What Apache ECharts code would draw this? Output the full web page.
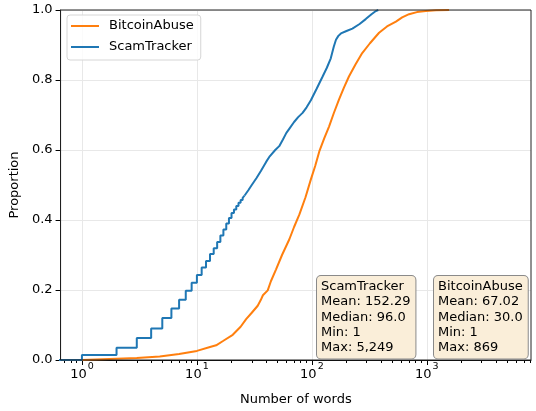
<!DOCTYPE html>
<html><head><meta charset="utf-8">
<script src="https://cdn.jsdelivr.net/npm/echarts@6/dist/echarts.min.js"></script>
<style>html,body{margin:0;padding:0;background:#fff}#c{width:536px;height:411px}</style>
</head><body><div id="c"></div>
<script>
// ScamTracker ECDF: integer step part
const scamStepX = [0.1,1,2,3,4,5,6,7,8,9,10,11,12,13,14,15,16,17,18,19,20,21,22,23,24,25,26];
const scamStepY = [0,0.014,0.035,0.063,0.090,0.120,0.147,0.172,0.198,0.221,0.243,0.264,0.283,0.303,0.319,0.337,0.356,0.373,0.390,0.406,0.420,0.430,0.440,0.449,0.457,0.463,0.470];
// ScamTracker ECDF: dense part (reaches 1.0 where it meets the top of the plot)
const scamCurveX = [26,28,30,33,36,40,43,48,52,56,60,64,70,76,83,90,98,110,124,135,146,155,162,170,179,200,225,260,294,330,360,378];
const scamCurveY = [0.470,0.485,0.500,0.520,0.540,0.566,0.582,0.600,0.611,0.630,0.649,0.662,0.680,0.694,0.706,0.722,0.742,0.775,0.810,0.835,0.862,0.895,0.915,0.926,0.933,0.940,0.947,0.960,0.974,0.988,0.997,1.0];
// BitcoinAbuse ECDF
const btcX = [0.1,1,1,3,4.75,7,10,13,14.7,17,20.5,24,26.8,30,33.8,36,37.5,41.3,44,48.8,55,63.7,70,77.9,88,98,107,116,128,141,155,172,190,210,240,274,320,384,450,538,610,700,820,980,1200,1560];
const btcY = [0,0,0.003,0.006,0.010,0.017,0.026,0.037,0.042,0.055,0.072,0.095,0.117,0.135,0.155,0.172,0.185,0.199,0.225,0.259,0.300,0.345,0.380,0.416,0.465,0.516,0.555,0.596,0.633,0.667,0.705,0.744,0.778,0.810,0.845,0.877,0.905,0.935,0.953,0.967,0.979,0.988,0.994,0.997,0.999,1.0];

const majorTicks = [1,10,100,1000];
const minorTicks = [0.7,0.8,0.9,2,3,4,5,6,7,8,9,20,30,40,50,60,70,80,90,200,300,400,500,600,700,800,900,2000,3000,4000,5000,6000,7000,8000];
const xMin = 0.652, xMax = 8050;

const statsScam = ['ScamTracker','Mean: 152.29','Median: 96.0','Min: 1','Max: 5,249'];
const statsBtc = ['BitcoinAbuse','Mean: 67.02','Median: 30.0','Min: 1','Max: 869'];

const FONT = 'DejaVu Sans';
const FS = 13;
const ORANGE = '#ff7f0e', BLUE = '#1f77b4';
const zip = (a,b)=>a.map((v,i)=>[v,b[i]]);

const chart = echarts.init(document.getElementById('c'), null, {renderer:'canvas'});
const boxStyle = (lines)=>({
  text: lines.join('\n'), font: FS+'px "'+FONT+'"', fill:'#000', lineHeight:15.3,
  backgroundColor:'#faeed9', borderColor:'#8a8a8a', borderWidth:1, borderRadius:4,
  padding:[3,5,3,4]
});
chart.setOption({
  animation:false,
  textStyle:{fontFamily:FONT},
  grid:{left:60,right:5,top:10,bottom:50,show:true,borderColor:'#222',borderWidth:1,backgroundColor:'transparent',z:5},
  legend:{
    orient:'vertical', left:67, top:15, data:['BitcoinAbuse','ScamTracker'],
    icon:'rect', itemWidth:28, itemHeight:2, itemGap:7,
    textStyle:{fontSize:FS, color:'#000', fontFamily:FONT, lineHeight:14, padding:[0,0,0,5]},
    backgroundColor:'rgba(255,255,255,0.8)', borderColor:'#d6d6d6', borderWidth:1, borderRadius:3,
    padding:[4,7,6,4]
  },
  xAxis:[{
    type:'log', logBase:10, min:xMin, max:xMax,
    name:'Number of words', nameLocation:'middle', nameGap:33,
    nameTextStyle:{fontSize:FS, color:'#000', fontFamily:FONT},
    axisLine:{show:true, onZero:false, lineStyle:{color:'#000', width:1}},
    axisTick:{show:true, length:5, customValues:majorTicks, lineStyle:{color:'#000'}},
    axisLabel:{customValues:majorTicks, margin:7, color:'#000',
      formatter:(v)=>{const k=Math.round(Math.log10(v)); return '{b|10}{s|'+k+'}';},
      rich:{b:{fontSize:FS, fontFamily:FONT, color:'#000', lineHeight:14, verticalAlign:'bottom'},
            s:{fontSize:9.5, fontFamily:FONT, color:'#000', lineHeight:10, padding:[0,0,9,1], verticalAlign:'bottom'}}},
    splitLine:{show:true, lineStyle:{color:'#e8e8e8', width:1}}
  },{
    type:'log', logBase:10, min:xMin, max:xMax, position:'bottom',
    axisLine:{show:false},
    axisTick:{show:true, length:3, customValues:minorTicks, lineStyle:{color:'#000'}},
    axisLabel:{show:false}, splitLine:{show:false}
  }],
  yAxis:{
    type:'value', min:0, max:1, interval:0.2,
    name:'Proportion', nameLocation:'middle', nameGap:33, nameRotate:90,
    nameTextStyle:{fontSize:FS, color:'#000', fontFamily:FONT},
    axisLine:{show:true, lineStyle:{color:'#000', width:1}},
    axisTick:{show:true, length:5, lineStyle:{color:'#000'}},
    axisLabel:{fontSize:FS, color:'#000', margin:8, formatter:(v)=>v.toFixed(1)},
    splitLine:{show:true, lineStyle:{color:'#e8e8e8', width:1}}
  },
  series:[
    {name:'BitcoinAbuse', type:'line', xAxisIndex:0, data:zip(btcX,btcY), showSymbol:false, symbol:'none',
     lineStyle:{color:ORANGE, width:2}, itemStyle:{color:ORANGE}, clip:true},
    {name:'ScamTracker', type:'line', xAxisIndex:0, data:zip(scamStepX,scamStepY), step:'end', showSymbol:false, symbol:'none',
     lineStyle:{color:BLUE, width:2}, itemStyle:{color:BLUE}, clip:true},
    {name:'ScamTracker', type:'line', xAxisIndex:0, data:zip(scamCurveX,scamCurveY), showSymbol:false, symbol:'none',
     lineStyle:{color:BLUE, width:2}, itemStyle:{color:BLUE}, clip:true}
  ],
  graphic:[
    {type:'text', left:316, top:275, z:100, style:boxStyle(statsScam)},
    {type:'text', left:433, top:275, z:100, style:boxStyle(statsBtc)}
  ]
});
</script></body></html>
